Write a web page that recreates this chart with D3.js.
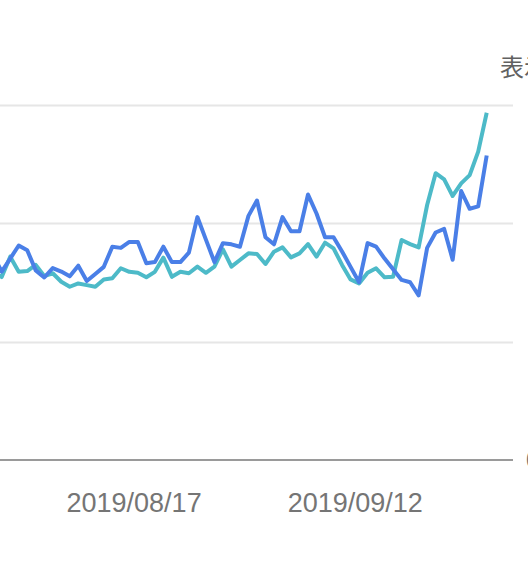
<!DOCTYPE html>
<html>
<head>
<meta charset="utf-8">
<script src="https://cdn.jsdelivr.net/npm/d3@7"></script>
<style>
  html, body { margin: 0; padding: 0; background: #fff; overflow: hidden; }
  svg { display: block; font-family: Roboto, "Noto Sans CJK JP", sans-serif; }
</style>
</head>
<body>
<svg id="chart" width="528" height="564"></svg>
<script>
// first day of the series (one day sits just off the left edge)
const START = "2019-07-31";

// blue line, left axis (clicks)
const clicks = [
  17.3, 15.9, 17.0, 18.1, 17.7, 16.0, 15.4, 16.2, 15.9, 15.5,
  16.4, 15.1, 15.7, 16.3, 18.0, 17.9, 18.4, 18.4, 16.6, 16.7,
  18.0, 16.7, 16.7, 17.5, 20.5, 18.6, 16.7, 18.3, 18.2, 18.0,
  20.6, 21.9, 18.8, 18.2, 20.5, 19.3, 19.3, 22.4, 20.8, 18.8,
  18.8, 17.6, 16.3, 15.0, 18.3, 18.0, 17.0, 16.1, 15.2, 15.0,
  13.9, 17.9, 19.2, 19.5, 16.9, 22.7, 21.2, 21.4, 25.7
];

// teal line, right axis (impressions)
const impressions = [
  793, 772, 858, 794, 797, 823, 776, 788, 752, 731,
  745, 738, 731, 762, 767, 809, 794, 790, 771, 794,
  854, 773, 794, 788, 816, 790, 816, 889, 816, 844,
  872, 869, 827, 879, 897, 855, 872, 911, 858, 917,
  893, 823, 762, 745, 790, 809, 771, 773, 928, 911,
  897, 1076, 1210, 1184, 1114, 1167, 1202, 1301, 1465
];

const xTicks = ["2019-08-17", "2019-09-12"];
const rightTicks = [0, 500, 1000, 1500];
const rightTitle = "表示回数";

const parse = d3.timeParse("%Y-%m-%d");
const start = parse(START);
// each daily point sits at midday, ticks at midnight
const dates = clicks.map((d, i) => d3.timeHour.offset(d3.timeDay.offset(start, i), 12));

const svg = d3.select("#chart");
const plotRight = 513;
const yTop = 104.5, yBottom = 460;

const x = d3.scaleTime()
  .domain([dates[1], dates[dates.length - 1]])
  .range([1.7, 486.7]);

const yRight = d3.scaleLinear().domain([0, 1500]).range([yBottom, yTop]);
const yLeft = d3.scaleLinear().domain([0, 30]).range([yBottom, yTop]);

// gridlines
svg.append("g")
  .selectAll("line")
  .data(rightTicks.filter(t => t > 0))
  .enter()
  .append("line")
  .attr("x1", -10)
  .attr("x2", plotRight)
  .attr("y1", d => Math.round(yRight(d)) + 0.5)
  .attr("y2", d => Math.round(yRight(d)) + 0.5)
  .style("stroke", "#e6e6e6")
  .style("stroke-width", 2);

// baseline
svg.append("line")
  .attr("x1", -10)
  .attr("x2", plotRight)
  .attr("y1", yBottom)
  .attr("y2", yBottom)
  .style("stroke", "#9a9a9a")
  .style("stroke-width", 2);

// right axis labels (mostly past the right edge)
const rightAxis = svg.append("g")
  .attr("transform", "translate(" + plotRight + ",0)")
  .call(d3.axisRight(yRight).tickValues(rightTicks).tickSize(0).tickPadding(13)
    .tickFormat(d => d === 0 ? "0" : d3.format(",")(d)));
rightAxis.select(".domain").remove();
rightAxis.selectAll("text")
  .attr("dx", d => d === 0 ? 0 : 4)
  .style("font-size", "24px")
  .style("fill", "#757575");

svg.append("text")
  .attr("x", 500)
  .attr("y", 76)
  .style("font-size", "24px")
  .style("fill", "#616161")
  .text(rightTitle);

// x axis labels
const xAxis = svg.append("g")
  .attr("transform", "translate(0," + yBottom + ")")
  .call(d3.axisBottom(x).tickValues(xTicks.map(parse)).tickSize(0).tickPadding(33)
    .tickFormat(d3.timeFormat("%Y/%m/%d")));
xAxis.select(".domain").remove();
xAxis.selectAll("text")
  .style("font-size", "27px")
  .style("fill", "#757575");

const line = (y, values) => d3.line()
  .x((d, i) => x(dates[i]))
  .y(d => y(d))(values);

svg.append("path")
  .attr("d", line(yRight, impressions))
  .style("fill", "none")
  .style("stroke", "#4dbac8")
  .style("stroke-width", 4)
  .style("stroke-linejoin", "round");

svg.append("path")
  .attr("d", line(yLeft, clicks))
  .style("fill", "none")
  .style("stroke", "#4a7fe7")
  .style("stroke-width", 4)
  .style("stroke-linejoin", "round");
</script>
</body>
</html>
